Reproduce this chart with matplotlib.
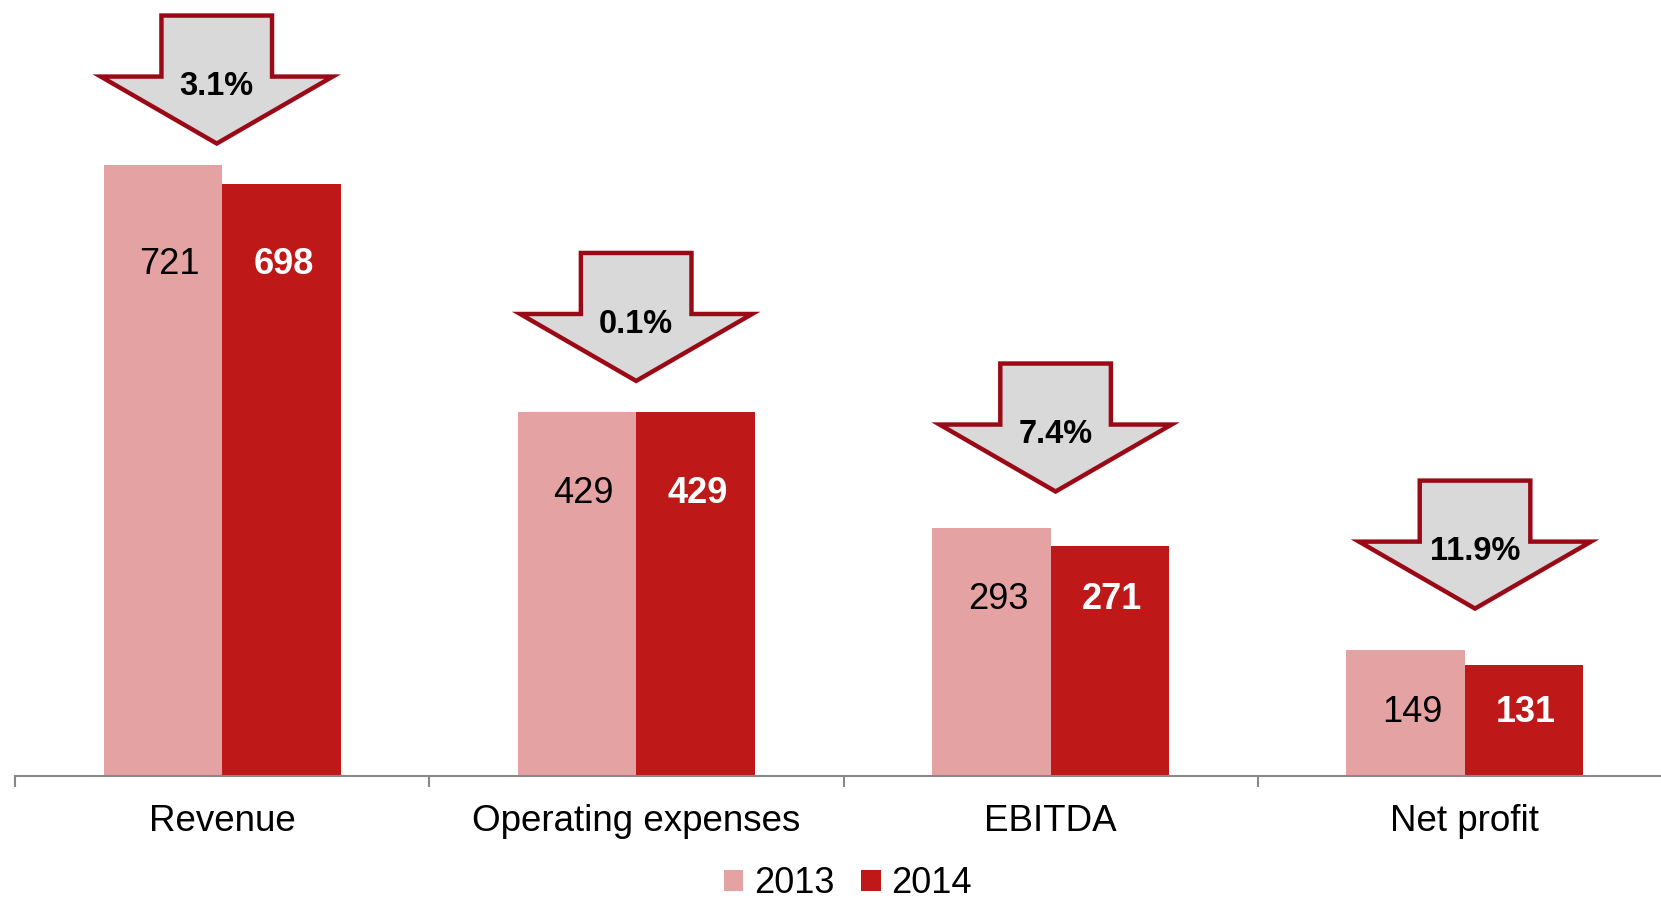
import matplotlib
matplotlib.use("Agg")
import matplotlib.pyplot as plt
from matplotlib.patches import Polygon, Patch
import numpy as np

plt.rcParams['font.family'] = ['Liberation Sans', 'DejaVu Sans']

categories = ["Revenue", "Operating expenses", "EBITDA", "Net profit"]
series_names = ["2013", "2014"]
values_2013 = [721, 429, 293, 149]
values_2014 = [698, 429, 271, 131]
change_labels = ["3.1%", "0.1%", "7.4%", "11.9%"]

c2013 = "#E4A2A3"
c2014 = "#BE1818"
arrow_edge = "#9A0A16"
arrow_fill = "#D9D9D9"

W, H = 1661, 902
fig = plt.figure(figsize=(W / 100, H / 100), dpi=100)
ax = fig.add_axes([15 / W, 126 / H, 1657 / W, 776 / H])

x = np.arange(len(categories))
bw = 0.286
ax.bar(x - bw / 2, values_2013, width=bw, color=c2013, zorder=2)
ax.bar(x + bw / 2, values_2014, width=bw, color=c2014, zorder=2)

ax.set_xlim(-0.5, len(categories) - 0.5)
ax.set_ylim(0, 915.6)

# value labels
for i in range(len(categories)):
    m = max(values_2013[i], values_2014[i])
    ly = 0.9237 * m - 74
    ax.text(x[i] - bw / 2 + 0.016, ly, f"{values_2013[i]}", ha="center", va="baseline",
            fontsize=26, color="black", zorder=3)
    ax.text(x[i] + bw / 2 + 0.005, ly, f"{values_2014[i]}", ha="center", va="baseline",
            fontsize=26, color="white", fontweight="bold", zorder=3)

# arrows
hw_head = 0.280
hw_shaft = 0.1335
shaft_h = 72
head_h = 79
for i in range(len(categories)):
    m = max(values_2013[i], values_2014[i])
    tip = 0.9593 * m + 54.6
    c = x[i] - 0.013 + 0.0125 * i
    j = tip + head_h
    top = j + shaft_h
    pts = [(c, tip), (c + hw_head, j), (c + hw_shaft, j), (c + hw_shaft, top),
           (c - hw_shaft, top), (c - hw_shaft, j), (c - hw_head, j)]
    poly = Polygon(pts, closed=True, facecolor=arrow_fill, edgecolor=arrow_edge,
                   linewidth=3.2, joinstyle="miter", zorder=4, clip_on=False)
    ax.add_patch(poly)
    ax.text(c, tip + 57, change_labels[i], ha="center", va="baseline",
            fontsize=23.5, fontweight="bold", color="black", zorder=5)

# axes styling
for s in ["top", "right", "left"]:
    ax.spines[s].set_visible(False)
ax.spines["bottom"].set_color("#888888")
ax.spines["bottom"].set_linewidth(1.5)
ax.set_yticks([])
ax.set_xticks(np.arange(-0.5, len(categories), 1.0))
ax.set_xticklabels([])
ax.tick_params(axis="x", which="major", length=8, width=1.5, color="#888888", direction="out")
ax.set_xticks(x, minor=True)
ax.set_xticklabels(categories, minor=True, fontsize=26.5)
ax.tick_params(axis="x", which="minor", length=0, pad=20.5)

handles = [Patch(facecolor=c2013, edgecolor="none"), Patch(facecolor=c2014, edgecolor="none")]
fig.legend(handles, series_names, loc="center", bbox_to_anchor=(848 / W, 18.5 / H),
           ncol=2, frameon=False, fontsize=26, handlelength=0.53, handleheight=0.53,
           handletextpad=0.3, columnspacing=0.75, borderpad=0, borderaxespad=0)

fig.savefig("out.png", dpi=100)
